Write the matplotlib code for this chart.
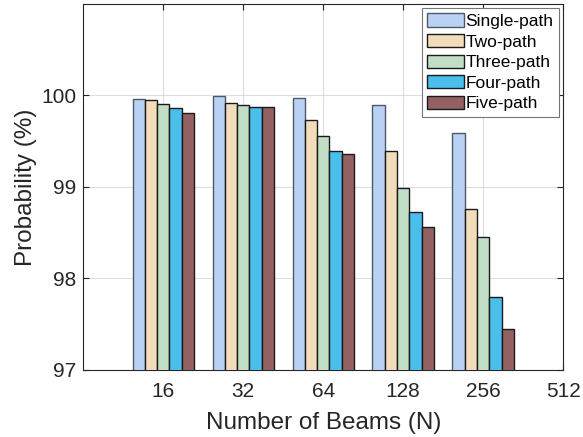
import matplotlib
matplotlib.use("Agg")
import matplotlib.pyplot as plt
import numpy as np

plt.rcParams['font.family'] = ['Liberation Sans', 'DejaVu Sans']

beams = ['16', '32', '64', '128', '256', '512']
series = ['Single-path', 'Two-path', 'Three-path', 'Four-path', 'Five-path']
single_path = [99.96, 99.99, 99.97, 99.90, 99.59]
two_path = [99.95, 99.92, 99.73, 99.39, 98.76]
three_path = [99.91, 99.89, 99.56, 98.99, 98.45]
four_path = [99.86, 99.87, 99.39, 98.73, 97.80]
five_path = [99.81, 99.875, 99.36, 98.56, 97.44]
values = [single_path, two_path, three_path, four_path, five_path]

colors = ['#b9d2f4', '#f2dcb9', '#c3dec7', '#4bbfec', '#936161']
edges = ['#4d5868', '#1a1a1a', '#1a1a1a', '#1a1a1a', '#1a1a1a']

fig = plt.figure(figsize=(5.83, 4.37), dpi=100)
ax = fig.add_axes([0.143, 0.154, 0.823, 0.837])

n = len(series)
group_w = n / (n + 1.5)
bw = group_w / n
x = np.arange(1, len(single_path) + 1)
for i, (name, vals) in enumerate(zip(series, values)):
    off = (i - (n - 1) / 2) * bw
    ax.bar(x + off, vals, width=bw, color=colors[i], edgecolor=edges[i],
           linewidth=1.0, label=name, zorder=3)

ax.set_xlim(0, 6)
ax.set_ylim(97, 101)
ax.set_xticks(np.arange(1, len(beams) + 1))
ax.set_xticklabels(beams)
ax.set_yticks([97, 98, 99, 100])
ax.grid(True, color='#dddddd', linewidth=0.8, zorder=0)
ax.set_axisbelow(True)

ax.tick_params(direction='in', top=True, right=True, length=4,
               labelsize=15, colors='#262626', width=0.8)
ax.tick_params(axis='x', pad=9)
ax.tick_params(axis='y', pad=5)
for s in ax.spines.values():
    s.set_color('#262626')
    s.set_linewidth(0.8)

ax.set_xlabel('Number of Beams (N)', fontsize=17.5, color='#262626', labelpad=8)
ax.set_ylabel('Probability (%)', fontsize=17.5, color='#262626', labelpad=3)

leg = ax.legend(loc='upper right', fontsize=12.5, frameon=True, fancybox=False,
                edgecolor='#777777', framealpha=1, handlelength=2.1,
                handleheight=0.8, handletextpad=0.1, labelspacing=0.28,
                borderpad=0.3, borderaxespad=0.25)
leg.get_frame().set_linewidth(0.8)

fig.savefig('out.png', dpi=100)
